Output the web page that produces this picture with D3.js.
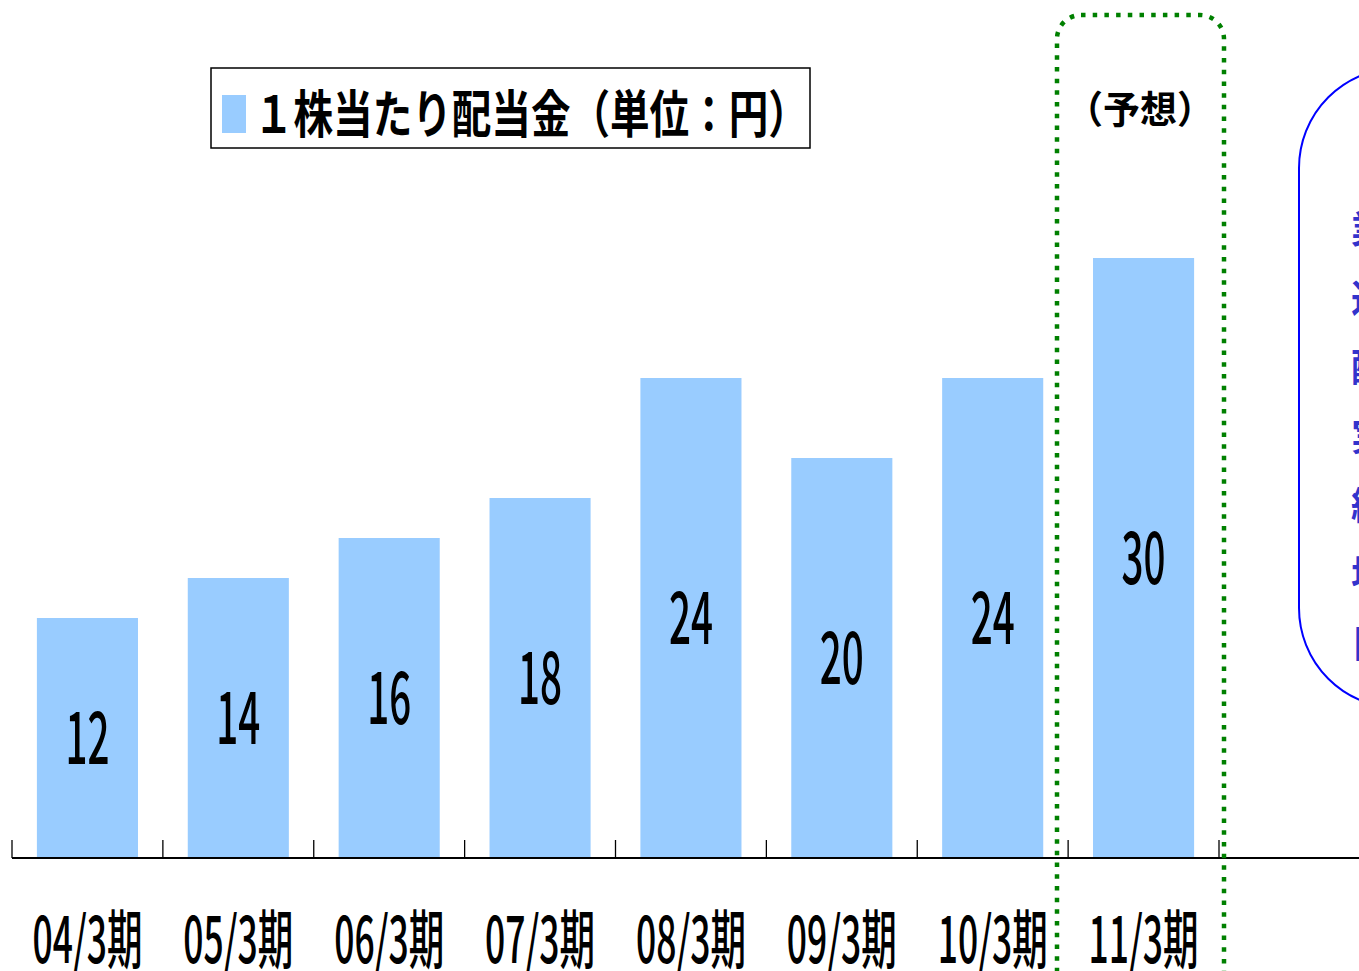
<!DOCTYPE html>
<html><head><meta charset="utf-8">
<script src="https://cdn.jsdelivr.net/npm/d3@7/dist/d3.min.js"></script>
<style>html,body{margin:0;padding:0;background:#fff;overflow:hidden}svg{display:block}</style>
</head><body>
<script>
const categories = ["04/3期","05/3期","06/3期","07/3期","08/3期","09/3期","10/3期","11/3期"];
const dividends = [12,14,16,18,24,20,24,30];
const legendLabel = "１株当たり配当金（単位：円）";
const forecastLabel = "（予想）";
const noteLines = ["業績に","連動した","配当を","実施し","継続的","増配を","目指す"];

const W = 1359, H = 971;
const svg = d3.select("body").append("svg").attr("width", W).attr("height", H);
const font = "'Noto Sans CJK JP', 'Noto Sans', sans-serif";

const x = d3.scaleBand().domain(categories).range([12, 1219]).paddingInner(0.33).paddingOuter(0.165);
const y = d3.scaleLinear().domain([0, 30]).range([858, 258]);

// bars
svg.selectAll("rect.bar").data(dividends).enter().append("rect")
  .attr("class","bar")
  .attr("x", (d,i) => x(categories[i]))
  .attr("width", x.bandwidth())
  .attr("y", d => y(d))
  .attr("height", d => y(0) - y(d))
  .attr("fill", "#99ccff");

// helper: horizontally condensed text to a target width
function condensed(sel, targetW) {
  sel.each(function(d) {
    const t = d3.select(this);
    const len = this.getComputedTextLength();
    const sx = targetW / len;
    t.attr("transform", `translate(${t.attr("data-x")},${t.attr("data-y")}) scale(${sx},1)`);
  });
}

// value labels
svg.selectAll("text.val").data(dividends).enter().append("text")
  .attr("class","val")
  .attr("data-x", (d,i) => x(categories[i]) + x.bandwidth()/2)
  .attr("data-y", d => (y(d) + y(0))/2 + 26)
  .attr("text-anchor","middle")
  .attr("font-family", font).attr("font-weight", 500)
  .attr("font-size", 72)
  .attr("fill","#000")
  .text(d => d)
  .call(condensed, 44);

// axis
const step = x.step();
const x0 = 12;
svg.append("line").attr("x1", x0).attr("x2", W).attr("y1", 858).attr("y2", 858)
  .attr("stroke","#000").attr("stroke-width",2);
d3.range(categories.length + 1).forEach(i => {
  const tx = x0 + i * step;
  svg.append("line").attr("x1", tx).attr("x2", tx).attr("y1", 840).attr("y2", 858)
    .attr("stroke","#000").attr("stroke-width",1.3);
});

// category labels
svg.selectAll("text.cat").data(categories).enter().append("text")
  .attr("class","cat")
  .attr("data-x", d => x(d) + x.bandwidth()/2)
  .attr("data-y", 963)
  .attr("text-anchor","middle")
  .attr("font-family", font).attr("font-weight", 500)
  .attr("font-size", 64)
  .attr("fill","#000")
  .text(d => d)
  .call(condensed, 110);

// legend
svg.append("rect").attr("x", 211).attr("y", 68).attr("width", 599).attr("height", 80)
  .attr("fill","#fff").attr("stroke","#000").attr("stroke-width",1.5);
svg.append("rect").attr("x", 222).attr("y", 95).attr("width", 24).attr("height", 38).attr("fill","#99ccff");
svg.append("text").attr("data-x", 254).attr("data-y", 133)
  .attr("font-family", font).attr("font-weight", 700).attr("font-size", 51)
  .text(legendLabel)
  .call(condensed, 554);

// forecast dotted box
svg.append("rect").attr("x", 1057).attr("y", 15).attr("width", 167).attr("height", 1100)
  .attr("rx", 24).attr("ry", 24)
  .attr("fill","none").attr("stroke","#008000").attr("stroke-width",4.5)
  .attr("stroke-dasharray","4.5,7.2");
svg.append("text").attr("data-x", 1140).attr("data-y", 123).attr("text-anchor","middle")
  .attr("font-family", font).attr("font-weight", 700).attr("font-size", 38)
  .text(forecastLabel)
  .call(condensed, 148);

// note box (mostly clipped)
svg.append("rect").attr("x", 1299).attr("y", 68).attr("width", 240).attr("height", 640)
  .attr("rx", 100).attr("ry", 100)
  .attr("fill","none").attr("stroke","#0000ff").attr("stroke-width",2);
svg.selectAll("text.note").data(noteLines).enter().append("text")
  .attr("class","note")
  .attr("x", 1351).attr("y", (d,i) => 243 + i * 69)
  .attr("font-family", font).attr("font-weight", 700).attr("font-size", 38)
  .attr("fill","#3333cc")
  .text(d => d);
</script>
</body></html>
